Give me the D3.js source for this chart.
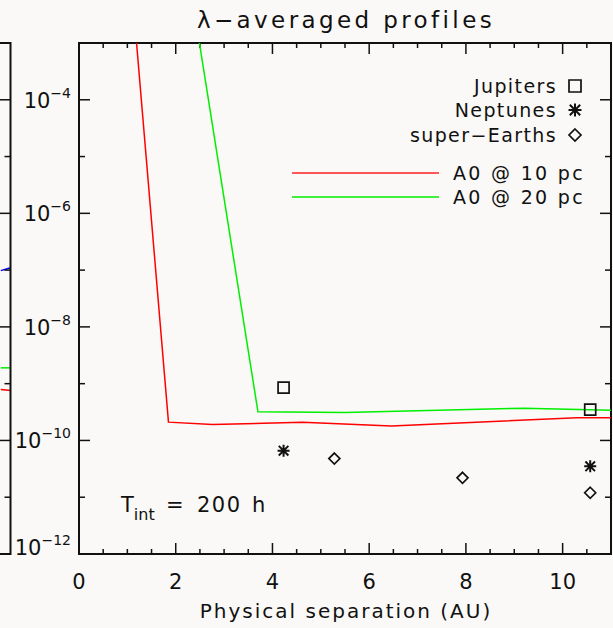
<!DOCTYPE html>
<html>
<head>
<meta charset="utf-8">
<script src="https://cdn.jsdelivr.net/npm/d3@7"></script>
<style>
  body { margin: 0; background: #faf9f7; }
  svg { display: block; }
  text { font-family: "DejaVu Sans", sans-serif; fill: #111; }
</style>
</head>
<body>
<div class="chart"></div>
<script>
// A0 star profiles (separation in AU, contrast)
const sepA0at10 = [1.19, 1.85, 2.76, 4.62, 6.46, 10.3, 11.0];
const conA0at10 = [1e-3, 2.1e-10, 1.9e-10, 2.1e-10, 1.8e-10, 2.5e-10, 2.5e-10];
const sepA0at20 = [2.49, 3.70, 5.5, 9.21, 11.0];
const conA0at20 = [1e-3, 3.2e-10, 3.1e-10, 3.7e-10, 3.4e-10];

// planets
const jupSep = [4.23, 10.57];
const jupCon = [8.5e-10, 3.5e-10];
const nepSep = [4.23, 10.57];
const nepCon = [6.6e-11, 3.5e-11];
const seSep = [5.28, 7.93, 10.57];
const seCon = [4.8e-11, 2.2e-11, 1.2e-11];

// neighbouring panel (only its right end is visible)
const nbSep = [10.8, 11.0];
const nbBlue = [9.8e-8, 1.1e-7];
const nbGreen = [1.9e-9, 1.9e-9];
const nbRed = [7.9e-10, 7.6e-10];

const yTicks = [-12, -11, -10, -9, -8, -7, -6, -5, -4, -3];
const yLabels = [-12, -10, -8, -6, -4];
const xLabels = [0, 2, 4, 6, 8, 10];

const width = 613, height = 628;
const margin = { top: 43, right: 2, bottom: 74, left: 79 };

const x = d3.scaleLinear().domain([0, 11]).range([margin.left, 611]);
const y = d3.scaleLog().domain([1e-12, 1e-3]).range([height - margin.bottom, margin.top]);
const xNb = d3.scaleLinear().domain([0, 11]).range([10.5 - 532, 10.5]);

const svg = d3.select(".chart").append("svg")
    .attr("width", width).attr("height", height);

svg.append("rect").attr("width", width).attr("height", height).attr("fill", "#faf9f7");

svg.append("defs").append("clipPath").attr("id", "clip")
    .append("rect").attr("x", x(0)).attr("y", y(1e-3))
    .attr("width", x(11) - x(0)).attr("height", y(1e-12) - y(1e-3));

const line = (xs, sx) => d3.line().x((d, i) => sx(xs[i])).y(d => y(d));

// neighbour panel bits
const nb = svg.append("g");
[[nbBlue, "#0000ff"], [nbGreen, "#00ee00"], [nbRed, "#ff0000"]].forEach(([v, c]) => {
    nb.append("path").attr("d", line(nbSep, xNb)(v))
        .attr("fill", "none").attr("stroke", c).attr("stroke-width", 1.5);
});
nb.append("path")
    .attr("d", `M0,${y(1e-3)}H${xNb(11)}V${y(1e-12)}H0`)
    .attr("fill", "none").attr("stroke", "#111").attr("stroke-width", 2);
nb.selectAll("line.t").data(yTicks.slice(1, -1)).join("line")
    .attr("x1", xNb(11)).attr("x2", d => xNb(11) - (d % 2 === 0 ? 11 : 6))
    .attr("y1", d => y(Math.pow(10, d))).attr("y2", d => y(Math.pow(10, d)))
    .attr("stroke", "#111").attr("stroke-width", 1.5);

// main frame
const g = svg.append("g");
g.append("rect")
    .attr("x", x(0)).attr("y", y(1e-3))
    .attr("width", x(11) - x(0)).attr("height", y(1e-12) - y(1e-3))
    .attr("fill", "none").attr("stroke", "#111").attr("stroke-width", 2);

// y ticks (left and right)
const yt = yTicks.slice(1, -1);
g.selectAll("line.yl").data(yt).join("line")
    .attr("x1", x(0)).attr("x2", d => x(0) + (d % 2 === 0 ? 11 : 6))
    .attr("y1", d => y(Math.pow(10, d))).attr("y2", d => y(Math.pow(10, d)))
    .attr("stroke", "#111").attr("stroke-width", 1.5);
g.selectAll("line.yr").data(yt).join("line")
    .attr("x1", x(11)).attr("x2", d => x(11) - (d % 2 === 0 ? 11 : 6))
    .attr("y1", d => y(Math.pow(10, d))).attr("y2", d => y(Math.pow(10, d)))
    .attr("stroke", "#111").attr("stroke-width", 1.5);

// x ticks (bottom and top)
const xt = d3.range(0.5, 11, 0.5);
g.selectAll("line.xb").data(xt).join("line")
    .attr("x1", d => x(d)).attr("x2", d => x(d))
    .attr("y1", y(1e-12)).attr("y2", d => y(1e-12) - (d % 2 === 0 ? 11 : 5))
    .attr("stroke", "#111").attr("stroke-width", 1.5);
g.selectAll("line.xt").data(xt).join("line")
    .attr("x1", d => x(d)).attr("x2", d => x(d))
    .attr("y1", y(1e-3)).attr("y2", d => y(1e-3) + (d % 2 === 0 ? 11 : 5))
    .attr("stroke", "#111").attr("stroke-width", 1.5);

// y labels
yLabels.forEach(p => {
    const yy = y(Math.pow(10, p)) + (p === -12 ? -7 : 0);
    const t = g.append("text").attr("x", 71).attr("y", yy + 8)
        .attr("text-anchor", "end").attr("font-size", 21);
    t.append("tspan").text("10");
    t.append("tspan").attr("dy", -10).attr("font-size", 14).text("\u2212" + (-p));
});

// x labels
g.selectAll("text.xl").data(xLabels).join("text")
    .attr("x", d => x(d)).attr("y", 589)
    .attr("text-anchor", "middle").attr("font-size", 21)
    .text(d => d);

g.append("text").attr("x", 346).attr("y", 618).attr("text-anchor", "middle")
    .attr("font-size", 20).attr("letter-spacing", 2)
    .text("Physical separation (AU)");

svg.append("text").attr("x", 346).attr("y", 28).attr("text-anchor", "middle")
    .attr("font-size", 23).attr("letter-spacing", 3.4)
    .text("\u03bb\u2212averaged profiles");

// profiles
const plot = g.append("g").attr("clip-path", "url(#clip)");
plot.append("path").attr("d", line(sepA0at10, x)(conA0at10))
    .attr("fill", "none").attr("stroke", "#ff0000").attr("stroke-width", 1.5);
plot.append("path").attr("d", line(sepA0at20, x)(conA0at20))
    .attr("fill", "none").attr("stroke", "#00ee00").attr("stroke-width", 1.5);

// markers
const square = s => `M${-s},${-s}H${s}V${s}H${-s}Z`;
const diamond = s => `M0,${-s}L${s},0L0,${s}L${-s},0Z`;
const aster = s => `M0,${-s}V${s}M${-s},0H${s}M${-s * .8},${-s * .8}L${s * .8},${s * .8}M${-s * .8},${s * .8}L${s * .8},${-s * .8}`;

const marks = (xs, vs, shape, w) => plot.append("g").selectAll("path").data(vs).join("path")
    .attr("transform", (d, i) => `translate(${x(xs[i])},${y(d)})`)
    .attr("d", shape).attr("fill", "none").attr("stroke", "#111").attr("stroke-width", w);
marks(jupSep, jupCon, square(5.5), 1.7);
marks(nepSep, nepCon, aster(6), 2);
marks(seSep, seCon, diamond(5.5), 1.7);

// legend
const leg = g.append("g");
[["Jupiters", square(6), 86, 1.7], ["Neptunes", aster(6.5), 110, 2], ["super\u2212Earths", diamond(6), 135, 1.7]]
    .forEach(([name, shape, yy, w]) => {
        leg.append("text").attr("x", 557).attr("y", yy + 7).attr("text-anchor", "end")
            .attr("font-size", 19).attr("letter-spacing", 1.4).text(name);
        leg.append("path").attr("transform", `translate(575,${yy})`).attr("d", shape)
            .attr("fill", "none").attr("stroke", "#111").attr("stroke-width", w);
    });
[["A0 @ 10 pc", "#ff2020", 173], ["A0 @ 20 pc", "#00ee00", 197]].forEach(([name, c, yy]) => {
    leg.append("line").attr("x1", 292).attr("x2", 439).attr("y1", yy).attr("y2", yy)
        .attr("stroke", c).attr("stroke-width", 1.5);
    leg.append("text").attr("x", 453).attr("y", yy + 7)
        .attr("font-size", 19).attr("letter-spacing", 2.3).text(name);
});

// integration time
const tt = g.append("text").attr("y", 512).attr("font-size", 21);
tt.append("tspan").attr("x", 121).text("T");
tt.append("tspan").attr("dy", 8).attr("font-size", 16).text("int");
tt.append("tspan").attr("x", 166).attr("dy", -8).text("=");
tt.append("tspan").attr("x", 197).attr("letter-spacing", 1.5).text("200");
tt.append("tspan").attr("x", 252).text("h");
</script>
</body>
</html>
